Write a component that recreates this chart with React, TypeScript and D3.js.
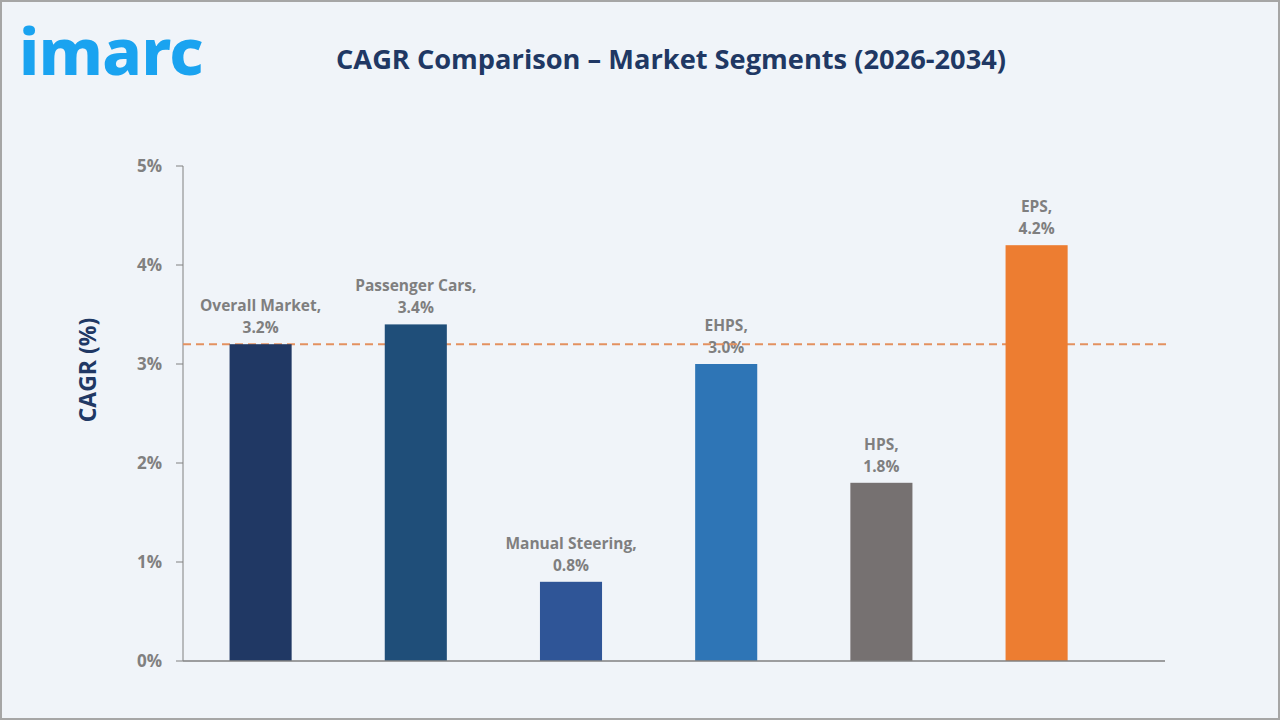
import React from 'react';
import * as d3 from 'd3';

// segment CAGR values, 2026-2034
const segments = ['Overall Market', 'Passenger Cars', 'Manual Steering', 'EHPS', 'HPS', 'EPS'];
const cagr = [3.2, 3.4, 0.8, 3.0, 1.8, 4.2];
const barColors = ['#203864', '#1f4e79', '#2f5597', '#2e75b6', '#767171', '#ed7d31'];
const yTicks = [0, 1, 2, 3, 4, 5];
const referenceLine = 3.2;

const W = 1280;
const H = 720;
const font = "'Open Sans', 'Noto Sans', sans-serif";

export default function App()
{
    const left = 183;
    const right = 1165;
    const top = 166;
    const bottom = 661;

    const x = d3.scaleBand<string>()
        .domain(segments)
        .range([left, left + 6 * 155.2])
        .paddingInner(0.6)
        .paddingOuter(0.3);

    const y = d3.scaleLinear()
        .domain([0, 5])
        .range([bottom, top]);

    const labels = segments.map((s, i) =>
    {
        const cx = (x(s) as number) + x.bandwidth() / 2;
        const ty = y(cagr[i]);
        return (
            <text key={s} x={cx} textAnchor="middle" fill="#7f7f7f"
                  fontSize={15.5} fontWeight={700} fontFamily={font}>
                <tspan x={cx} y={ty - 33}>{s},</tspan>
                <tspan x={cx} y={ty - 11}>{cagr[i].toFixed(1)}%</tspan>
            </text>
        );
    });

    const bars = segments.map((s, i) => (
        <rect key={s} x={x(s)} y={y(cagr[i])} width={x.bandwidth()}
              height={bottom - y(cagr[i])} fill={barColors[i]}/>
    ));

    return (
        <div style={{position: 'fixed', left: 0, top: 0}}>
            <svg width={W} height={H} style={{display: 'block'}}>
                <rect x={1} y={1} width={W - 2} height={H - 2} fill="#f0f4f9"
                      stroke="#a6a6a6" strokeWidth={2}/>

                <text x={19} y={75} fill="#1aa3f0" fontSize={65} fontWeight={800}
                      fontFamily="'Noto Sans', sans-serif" letterSpacing={-0.5}>imarc</text>

                <text x={671} y={69} textAnchor="middle" fill="#203864" fontSize={27.5}
                      fontWeight={700} fontFamily={font} textLength={670}
                      lengthAdjust="spacingAndGlyphs">
                    CAGR Comparison – Market Segments (2026-2034)
                </text>

                <text transform="translate(96,370) rotate(-90)"
                      textAnchor="middle" fill="#203864" fontSize={23} fontWeight={700}
                      fontFamily={font}>CAGR (%)</text>

                {yTicks.map(t => (
                    <g key={t}>
                        <line x1={left - 7} x2={left} y1={y(t)} y2={y(t)} stroke="#808080"/>
                        <text x={162} y={y(t) + 6} textAnchor="end" fill="#808080"
                              fontSize={17} fontWeight={700} fontFamily={font}>{t}%</text>
                    </g>
                ))}
                <line x1={left} x2={left} y1={top} y2={bottom} stroke="#808080"/>

                {labels}

                <line x1={left} x2={1167} y1={y(referenceLine)} y2={y(referenceLine)}
                      stroke="#e39160" strokeWidth={2} strokeDasharray="8,5"/>

                {bars}

                <line x1={left} x2={right} y1={bottom} y2={bottom} stroke="#808080" strokeWidth={1.3}/>
            </svg>
        </div>
    );
}
